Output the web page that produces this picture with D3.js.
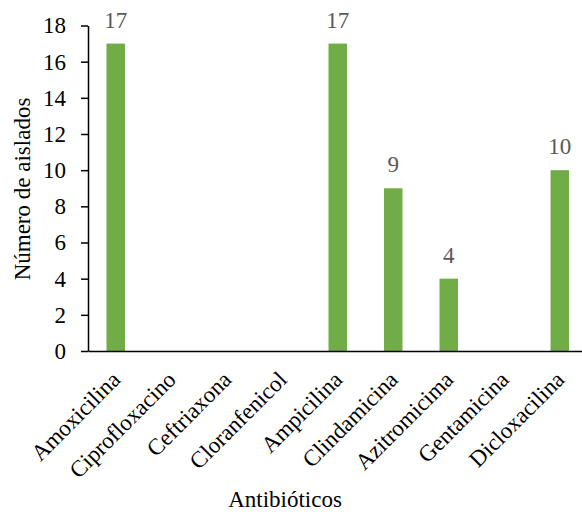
<!DOCTYPE html>
<html><head><meta charset="utf-8">
<script src="https://cdn.jsdelivr.net/npm/d3@7"></script>
<style>body{margin:0;background:#fff}svg{display:block}</style>
</head><body>
<svg id="c" width="582" height="515"></svg>
<script>
const categories = ["Amoxicilina","Ciprofloxacino","Ceftriaxona","Cloranfenicol","Ampicilina","Clindamicina","Azitromicima","Gentamicina","Dicloxacilina"];
const values = [17,0,0,0,17,9,4,0,10];
const yTicks = [0,2,4,6,8,10,12,14,16,18];

const FS = 23;
const FF = "'Liberation Serif', 'Times New Roman', Times, serif";
const svg = d3.select("#c");
const mLeft = 88, mRight = 587.5, mTop = 25.5, mBottom = 351;
const x = d3.scaleBand().domain(categories).range([mLeft, mRight]).paddingInner(0.667).paddingOuter(0.333);
const y = d3.scaleLinear().domain([0,18]).range([mBottom, mTop]);
const data = categories.map((c,i)=>({c,v:values[i]})).filter(d=>d.v>0);

// bars
svg.append("g").selectAll("rect").data(data)
  .join("rect")
  .attr("x", d=>x(d.c)).attr("width", x.bandwidth())
  .attr("y", d=>y(d.v)).attr("height", d=>y(0)-y(d.v))
  .attr("fill","#70ad47");

// value labels
svg.append("g").selectAll("text").data(data)
  .join("text")
  .attr("x", d=>x(d.c)+x.bandwidth()/2).attr("y", d=>y(d.v)-16)
  .attr("text-anchor","middle").style("font-family",FF).style("font-size",FS+"px").attr("fill","#595959")
  .text(d=>d.v);

// y axis
const ya = svg.append("g").attr("transform",`translate(${mLeft},0)`)
  .call(d3.axisLeft(y).tickValues(yTicks).tickSize(7).tickPadding(15).tickSizeOuter(0));
ya.attr("font-family",null).attr("font-size",null);
ya.select(".domain").attr("stroke","#000").attr("stroke-width",1.5);
ya.selectAll(".tick line").attr("stroke","#000").attr("stroke-width",1.5);
ya.selectAll(".tick text").style("font-family",FF).style("font-size",FS+"px").attr("fill","#000");

// x axis
const xa = svg.append("g").attr("transform",`translate(0,${mBottom})`)
  .call(d3.axisBottom(x).tickSize(0).tickSizeOuter(0).tickPadding(0));
xa.attr("font-family",null).attr("font-size",null);
xa.select(".domain").attr("stroke","#000").attr("stroke-width",1.5);
xa.selectAll(".tick text")
  .style("font-family",FF).style("font-size",FS+"px").attr("fill","#000")
  .attr("text-anchor","end").attr("dy",null).attr("y",null)
  .attr("transform","translate(6,30) rotate(-45)");

// axis titles
svg.append("text").attr("x",285).attr("y",507).attr("text-anchor","middle").style("font-family",FF).style("font-size",FS+"px").attr("fill","#000").text("Antibióticos");
svg.append("text").attr("transform","translate(30,189) rotate(-90)").attr("text-anchor","middle").style("font-family",FF).style("font-size",FS+"px").attr("fill","#000").text("Número de aislados");
</script>
</body></html>
